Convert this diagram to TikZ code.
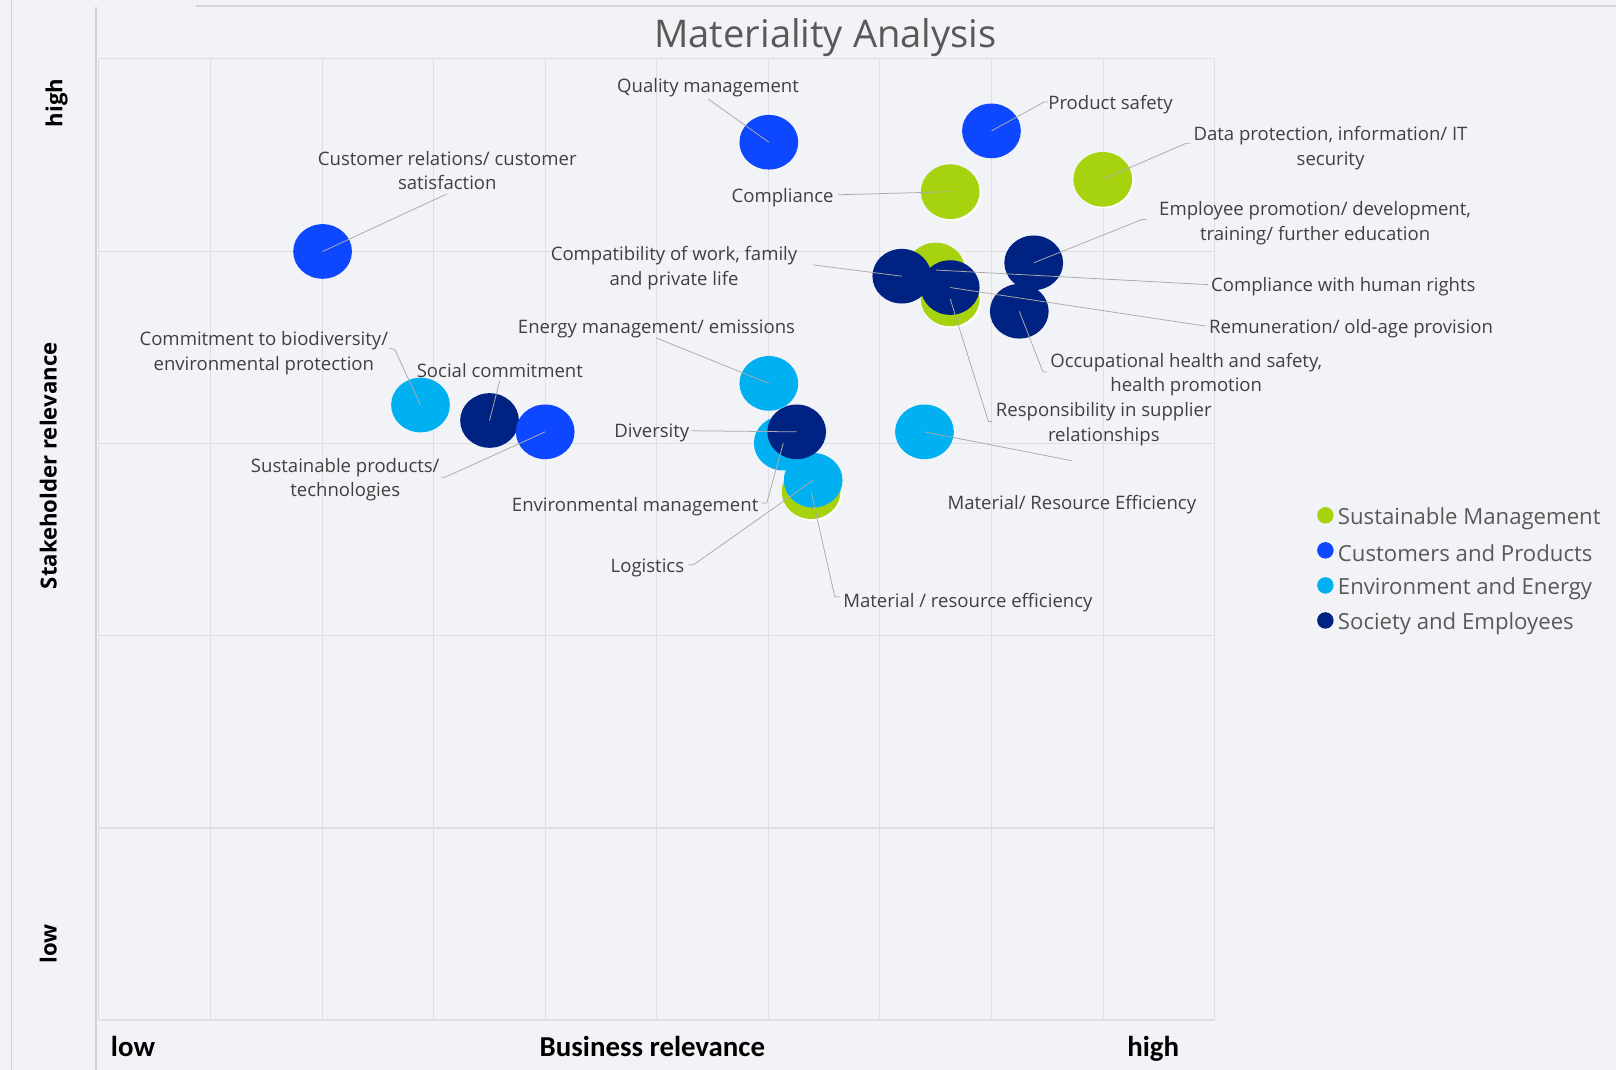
\documentclass[tikz,border=0pt]{standalone}
\usepackage{fontspec}
\setmainfont{Open Sans}
\newfontfamily\calib{Carlito}
\usetikzlibrary{shapes.geometric}
\definecolor{bgc}{HTML}{F2F3F7}
\definecolor{gridc}{HTML}{DEDFE4}
\definecolor{framec}{HTML}{D3D4DA}
\definecolor{leadc}{HTML}{ABABAB}
\definecolor{labc}{HTML}{404040}
\definecolor{titc}{HTML}{595959}
\definecolor{smc}{HTML}{A6D30E}
\definecolor{cpc}{HTML}{0D47FF}
\definecolor{eec}{HTML}{00B0F0}
\definecolor{sec}{HTML}{002282}
\tikzset{
  bub/.style={ellipse, minimum width=57pt, minimum height=53pt, inner sep=0pt, draw=none},
  halo/.style={ellipse, minimum width=58pt, minimum height=54pt, inner sep=0pt, fill=white, opacity=0.8},
  lead/.style={draw=leadc, line width=0.75pt},
  lab/.style={font=\fontsize{18}{24}\selectfont, text=labc, inner sep=0pt, align=center, yshift=-2.5pt},
  legt/.style={font=\fontsize{21.5}{26}\selectfont, text=titc, inner sep=0pt, anchor=west, yshift=-3pt},
  gridl/.style={draw=gridc, line width=1pt},
  axb/.style={font=\calib\bfseries\fontsize{28}{30}\selectfont, text=black, inner sep=0pt, anchor=base},
  axv/.style={font=\bfseries\fontsize{21.5}{24}\selectfont, text=black, inner sep=0pt, rotate=90}
}
\begin{document}
\begin{tikzpicture}[x=1pt,y=-1pt]
\useasboundingbox (0,0) rectangle (1568,1038);
\fill[bgc] (0,0) rectangle (1568,1038);
% frame lines
\draw[framec, line width=1pt] (11,0) -- (11,1038);
\draw[framec, line width=1.5pt] (93,7) -- (93,1038);
\draw[framec, line width=1.5pt] (190,6) -- (1568,6);
% grid
\foreach \gx in {96,204.25,312.5,420.75,529,637.25,745.5,853.75,962,1070.25,1178.5}
  \draw[gridl] (\gx,57) -- (\gx,990);
\foreach \gy in {57,243.6,430.2,616.8,803.4}
  \draw[gridl] (96,\gy) -- (1178.5,\gy);
\draw[gridc, line width=1.8pt] (96,990) -- (1178.5,990);
% title
\node[font=\fontsize{37}{42}\selectfont, text=titc, inner sep=0pt] (title) at (801,36) {Materiality Analysis};
% axis labels
\node[axb] (blow) at (129,1025) {low};
\node[axb] (bmid) at (633,1025) {Business relevance};
\node[axb] (bhigh) at (1119,1025) {high};
\node[axv] (vhigh) at (55,100) {high};
\node[axv] (vmid) at (47,452) {Stakeholder relevance};
\node[axv] (vlow) at (47,916) {low};
% green halos
\foreach \hx/\hy in {922/186,1070/174,908/262,922/290,787/477}
  \node[halo] at (\hx+1.5,\hy+1.5) {};
% green bubbles (Sustainable Management)
\node[bub, fill=smc] (comp) at (922,186) {};
\node[bub, fill=smc] (data) at (1070,174) {};
\node[bub, fill=smc] (hr) at (908,262) {};
\node[bub, fill=smc] (resp) at (922,290) {};
\node[bub, fill=smc] (matb) at (787,477) {};
% light blue bubbles (Environment and Energy)
\node[bub, fill=eec] (energy) at (746,372) {};
\node[bub, fill=eec] (biod) at (408,393) {};
\node[bub, fill=eec] (envm) at (760,430) {};
\node[bub, fill=eec] (logi) at (789,466) {};
\node[bub, fill=eec] (mre) at (897,419) {};
% navy bubbles (Society and Employees)
\node[bub, fill=sec] (occ) at (989,302) {};
\node[bub, fill=sec] (emp) at (1003,255) {};
\node[bub, fill=sec] (compat) at (875,268) {};
\node[bub, fill=sec] (remu) at (922,279) {};
\node[bub, fill=sec] (social) at (475,408) {};
\node[bub, fill=sec] (div) at (773,419) {};
% blue bubbles (Customers and Products)
\node[bub, fill=cpc] (qual) at (746,138) {};
\node[bub, fill=cpc] (prod) at (962,127) {};
\node[bub, fill=cpc] (cust) at (313,244) {};
\node[bub, fill=cpc] (sust) at (529,419) {};
% leader end coordinates
\coordinate (qualE) at (687,96);
\coordinate (prodE) at (1013,99);
\coordinate (dataE) at (1151,139);
\coordinate (compE) at (813,189);
\coordinate (custE) at (434,188);
\coordinate (empE) at (1108,213);
\coordinate (compatE) at (789,257);
\coordinate (hrE) at (1169,276);
\coordinate (remuE) at (1167,316);
\coordinate (occE) at (1012,361);
\coordinate (respE) at (959,409);
\coordinate (energyE) at (637,328);
\coordinate (biodE) at (383,339);
\coordinate (socialE) at (485,369);
\coordinate (sustE) at (432,463);
\coordinate (divE) at (671,418);
\coordinate (envmE) at (744,488);
\coordinate (logiE) at (673,548);
\coordinate (matbE) at (810,579);
\coordinate (mreE) at (1040,447);
% leaders
\draw[lead] (qual.center) -- (qualE);
\draw[lead] (prod.center) -- (prodE) -- ++(4,0);
\draw[lead] (data.center) -- (dataE) -- ++(4,0);
\draw[lead] (compE) -- (comp.center);
\draw[lead] (cust.center) -- (custE);
\draw[lead] (emp.center) -- (empE) -- ++(4,0);
\draw[lead] (compatE) -- (compat.center);
\draw[lead] (hr.center) -- (hrE) -- ++(3,0);
\draw[lead] (remu.center) -- (remuE) -- ++(3,0);
\draw[lead] (occ.center) -- (occE) -- ++(4,0);
\draw[lead] (resp.center) -- (respE) -- ++(4,0);
\draw[lead] (energyE) -- (energy.center);
\draw[lead] (biodE) ++(-5,-1) -- (biodE) -- (biod.center);
\draw[lead] (socialE) -- (social.center);
\draw[lead] (sustE) ++(-4,0) -- (sustE) -- (sust.center);
\draw[lead] (divE) -- (div.center);
\draw[lead] (envm.center) -- (envmE) -- ++(-5,0);
\draw[lead] (logi.center) -- (logiE) -- ++(-5,0);
\draw[lead] (matb.center) -- (matbE) -- ++(5,0);
\draw[lead] (mre.center) -- (mreE);
% labels
\node[lab] (qualL) at (687,83) {Quality management};
\node[lab, anchor=west] (prodL) at (1017,99) {Product safety};
\node[lab] (dataL) at (1291,141) {Data protection, information/ IT\\security};
\node[lab, anchor=east] (compL) at (809,189) {Compliance};
\node[lab] (custL) at (434,163) {Customer relations/ customer\\satisfaction};
\node[lab] (empL) at (1276,214) {Employee promotion/ development,\\training/ further education};
\node[lab] (compatL) at (654,258) {Compatibility of work, family\\and private life};
\node[lab, anchor=west] (hrL) at (1175,276) {Compliance with human rights};
\node[lab, anchor=west] (remuL) at (1173,316) {Remuneration/ old-age provision};
\node[lab] (occL) at (1151,361) {Occupational health and safety,\\health promotion};
\node[lab] (respL) at (1071,409) {Responsibility in supplier\\relationships};
\node[lab] (energyL) at (637,317) {Energy management/ emissions};
\node[lab] (biodL) at (256,340) {Commitment to biodiversity/\\environmental protection};
\node[lab] (socialL) at (485,357) {Social commitment};
\node[lab] (sustL) at (335,463) {Sustainable products/\\technologies};
\node[lab, anchor=east] (divL) at (669,418) {Diversity};
\node[lab, anchor=east] (envmL) at (736,489) {Environmental management};
\node[lab, anchor=east] (logiL) at (664,549) {Logistics};
\node[lab, anchor=west] (matbL) at (818,582) {Material / resource efficiency};
\node[lab] (mreL) at (1040,487) {Material/ Resource Efficiency};
% legend
\fill[smc] (1286,500) circle (8);
\fill[cpc] (1286,534) circle (8);
\fill[eec] (1286,568) circle (8);
\fill[sec] (1286,602) circle (8);
\node[legt] (l1) at (1298,500) {Sustainable Management};
\node[legt] (l2) at (1298,534) {Customers and Products};
\node[legt] (l3) at (1298,568) {Environment and Energy};
\node[legt] (l4) at (1298,602) {Society and Employees};
\end{tikzpicture}
\end{document}
